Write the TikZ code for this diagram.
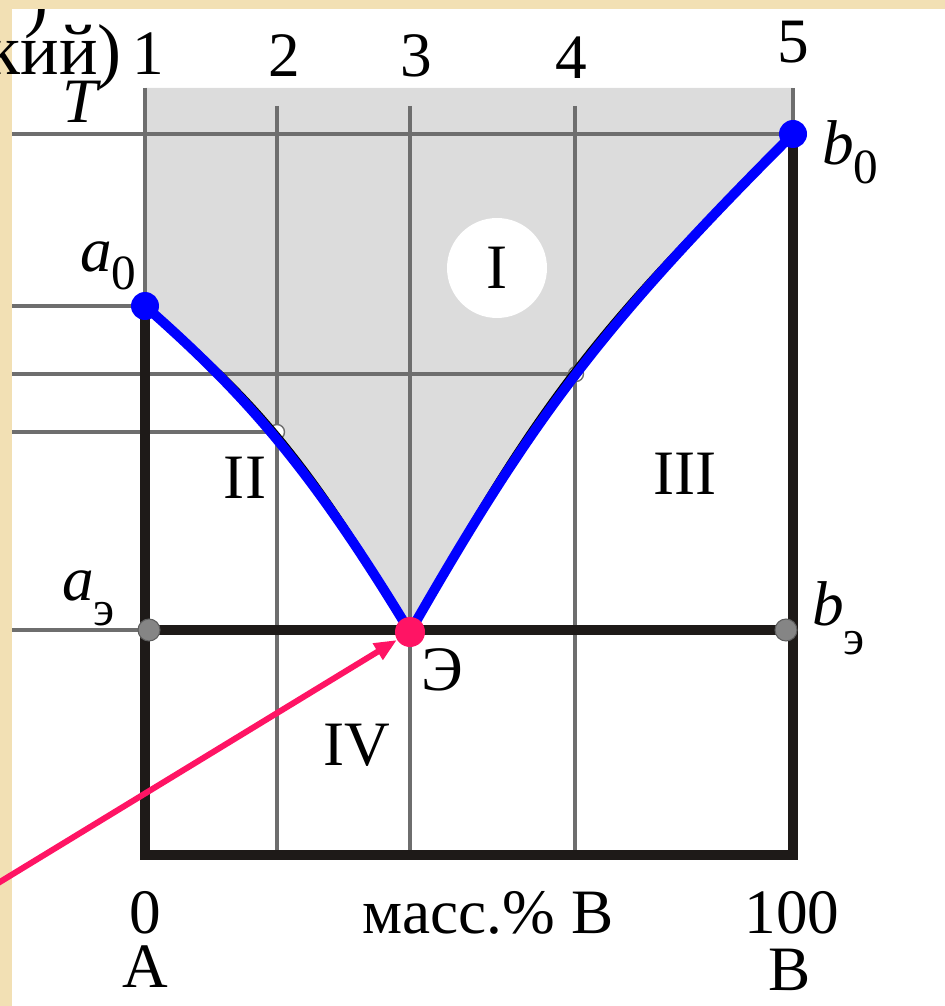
\documentclass[tikz,border=0pt]{standalone}
\usepackage{fontspec}
\setmainfont{Liberation Serif}
\usetikzlibrary{arrows.meta, calc}
\definecolor{slideEdge}{HTML}{F2E0B4}
\definecolor{gridLine}{HTML}{6E6E6E}
\definecolor{liqShade}{HTML}{DCDCDC}
\definecolor{liqBlue}{HTML}{0000FF}
\definecolor{frameBlack}{HTML}{1E1A18}
\definecolor{eutPink}{HTML}{FF1464}
\definecolor{solDot}{HTML}{858585}
\newcommand{\lsub}[3]{\textit{#1}\raisebox{-#3em}{\fontsize{28}{28}\selectfont #2}}

\begin{document}
\begin{tikzpicture}[x=0.02cm, y=-0.02cm, lbl/.style={font=\fontsize{36}{42}\selectfont, inner sep=0pt}, bigtxt/.style={font=\fontsize{41}{48}\selectfont, inner sep=0pt}, gridln/.style={draw=gridLine, line width=1.8pt}, frameln/.style={draw=frameBlack, line width=5.2pt}, liqln/.style={draw=liqBlue, line width=5.6pt, line cap=round}, liqedge/.style={draw=black, line width=2pt}, bluedot/.style={circle, fill=liqBlue, minimum size=0.56cm, inner sep=0pt}, graydot/.style={circle, fill=solDot, draw=solDot!70!black, line width=0.6pt, minimum size=0.44cm, inner sep=0pt}, opendot/.style={circle, fill=white, draw=gridLine, line width=0.8pt, minimum size=0.3cm, inner sep=0pt}, eutdot/.style={circle, fill=eutPink, minimum size=0.6cm, inner sep=0pt}, pinkarr/.style={-{Triangle[length=0.45cm, width=0.36cm]}, draw=eutPink, line width=3.4pt}]
\useasboundingbox (0,0) rectangle (945,1006);
\clip (0,0) rectangle (945,1006);
\fill[slideEdge] (0,0) rectangle (12,1006);
\node[bigtxt, anchor=base east] (frag) at (49,24) {)};
\fill[slideEdge] (0,0) rectangle (945,9);
% key points
\coordinate (a0) at (145,306); \coordinate (b0) at (793,134); \coordinate (E) at (410,632);
\coordinate (p2) at (277,432); \coordinate (p4) at (576,374);
\coordinate (ae) at (149,630); \coordinate (be) at (786,630);
\coordinate (bl) at (145,855); \coordinate (br) at (793,855);
% liquid region
\fill[liqShade] (145,88) -- (793,88) -- (b0) .. controls (602,325) and (533,417) .. (E) .. controls (310,467) and (245,394) .. (a0) -- cycle;
% grid
\draw[gridln] (145,88) -- (a0); \draw[gridln] (793,88) -- (b0);
\foreach \gx in {277,410,575} \draw[gridln] (\gx,106) -- (\gx,855);
\draw[gridln] (12,134) -- (b0); \draw[gridln] (12,306) -- (a0); \draw[gridln] (12,374) -- (p4); \draw[gridln] (12,432) -- (p2); \draw[gridln] (12,630) -- (ae);
\draw[frameln] (a0) -- (bl) -- (br) -- (b0);
\draw[frameln] (ae) -- (be);
\node[opendot] (m2) at (p2) {}; \node[opendot] (m4) at (p4) {};
\draw[liqedge, shift={(4,-4)}] (a0) .. controls (245,394) and (310,467) .. (E);
\draw[liqedge, shift={(-5,-3)}] (E) .. controls (533,417) and (602,325) .. (b0);
\draw[liqln] (a0) .. controls (245,394) and (310,467) .. (E);
\draw[liqln] (E) .. controls (533,417) and (602,325) .. (b0);
\node[bluedot] (da0) at (a0) {}; \node[bluedot] (db0) at (b0) {};
\node[graydot] (dae) at (ae) {}; \node[graydot] (dbe) at (be) {};
\coordinate (astart) at (-10,888);
\node[eutdot] (eut) at (E) {};
\draw[pinkarr] (astart) -- (eut);
\node[lbl, circle, fill=white, minimum size=2cm] (zoneI) at (497,268) {I};
\node[lbl] (zoneII) at (245,478) {II};
\node[lbl] (zoneIII) at (685,474) {III};
\node[lbl] (zoneIV) at (357,745) {IV};
% labels
\node[bigtxt, anchor=base east] (cut) at (122,75) {кий)};
\node[lbl, anchor=base] (n1) at (148,75) {1}; \node[lbl, anchor=base] (n2) at (284,77) {2}; \node[lbl, anchor=base] (n3) at (416,77) {3}; \node[lbl, anchor=base] (n4) at (571,79) {4}; \node[lbl, anchor=base] (n5) at (793,63) {5};
\node[lbl, anchor=base] (tT) at (82,123) {\textit{T}};
\node[lbl, anchor=base west] (la0) at (80,272) {\lsub{a}{0}{0.28}};
\node[lbl, anchor=base west] (lb0) at (822,165) {\lsub{b}{0}{0.3}};
\node[lbl, anchor=base west] (lae) at (62,600) {\lsub{a}{э}{0.4}};
\node[lbl, anchor=base west] (lbe) at (812,625) {\lsub{b}{э}{0.47}};
\node[lbl] (lE) at (442,670) {Э};
\node[lbl, anchor=base] (x0) at (145,933) {0}; \node[lbl, anchor=base] (xlab) at (488,933) {масс.\% В}; \node[lbl, anchor=base] (x100) at (792,933) {100};
\node[lbl, anchor=base] (cA) at (145,987) {A}; \node[lbl, anchor=base] (cB) at (790,990) {B};
\end{tikzpicture}
\end{document}
